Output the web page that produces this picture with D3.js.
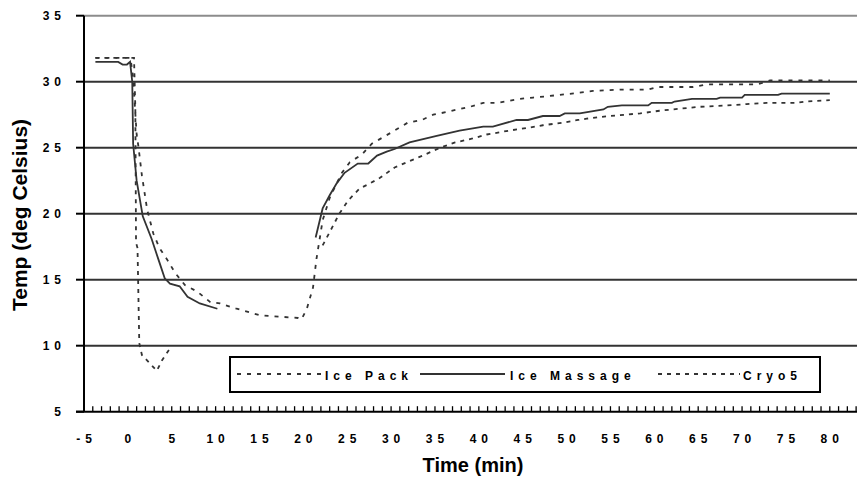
<!DOCTYPE html>
<html><head><meta charset="utf-8">
<script src="https://cdn.jsdelivr.net/npm/d3@7"></script>
<style>body{margin:0;background:#fff}svg{display:block}text{font-family:"Liberation Sans",Arial,sans-serif;font-weight:bold;fill:#000}</style>
</head><body><svg id="c" width="857" height="481"></svg>
<script>
// ---- data ----
const seriesNames = ["Ice Pack", "Ice Massage", "Cryo5"];
const xTickValues = [-5,0,5,10,15,20,25,30,35,40,45,50,55,60,65,70,75,80];
const yTickValues = [5,10,15,20,25,30,35];

const icePackTime = [-3.7,0.3,0.6,1.0,1.2,1.6,2.2,2.9,3.6,4.5,5.4,6.5,7.9,9.4,10.5,12.4,15.1,17.3,19.4,19.8,20.4,21.1,21.5,22.2,23.0,23.8,24.4,25.3,26.7,27.8,29.1,30.4,31.9,33.5,34.8,36.3,37.6,39.0,40.5,42.1,44.7,46.2,47.8,49.2,50.6,53.0,56.1,59.2,60.4,64.4,66.0,71.8,73.2,80.0];
const icePackTemp = [31.8,31.8,30.3,26.0,25.1,22.9,20.3,18.5,17.4,16.5,15.5,14.6,14.1,13.3,13.2,12.8,12.3,12.2,12.1,12.0,12.8,14.4,16.6,19.5,21.2,22.3,23.1,23.9,24.5,25.3,25.8,26.3,26.9,27.1,27.5,27.7,27.9,28.1,28.4,28.4,28.7,28.8,28.9,29.0,29.1,29.3,29.4,29.4,29.6,29.6,29.8,29.8,30.1,30.1];

const iceMassageTime = [-3.7,-1.1,-0.6,-0.1,0.25,0.5,0.6,1.0,1.7,2.7,3.5,4.2,4.8,5.9,6.8,8.2,10.2,15.0,21.4,22.2,23.0,23.8,24.7,26.2,27.4,28.4,29.5,30.4,32.1,35.2,37.8,40.5,41.6,44.3,45.6,47.3,49.2,49.8,51.5,54.2,54.7,56.3,59.3,59.7,62.0,62.3,64.3,67.1,67.5,70.0,70.3,74.1,74.5,80.0];
const iceMassageTemp = [31.5,31.5,31.3,31.3,31.5,30.0,25.3,22.5,19.8,18.1,16.5,15.1,14.7,14.5,13.7,13.2,12.8,null,18.2,20.4,21.4,22.3,23.1,23.8,23.8,24.4,24.7,24.9,25.4,25.9,26.3,26.6,26.6,27.1,27.1,27.4,27.4,27.6,27.6,27.9,28.1,28.2,28.2,28.4,28.4,28.5,28.7,28.7,28.8,28.8,29.0,29.0,29.1,29.1];

const cryo5Time = [-3.7,0.7,0.85,0.93,1.1,1.3,1.6,3.3,3.9,4.8,13.0,22.2,23.0,24.1,25.1,26.4,27.6,28.7,30.4,31.8,33.6,35.6,37.3,39.3,40.9,43.5,45.5,47.3,49.6,51.3,52.3,54.9,58.4,60.6,62.1,65.2,68.3,70.5,72.8,76.2,77.4,80.0];
const cryo5Temp = [31.8,31.8,28.0,17.8,17.4,10.2,9.3,8.1,8.9,9.8,null,17.6,18.6,20.0,21.0,21.9,22.3,22.7,23.5,23.9,24.4,25.0,25.4,25.7,26.0,26.3,26.5,26.7,26.9,27.1,27.2,27.4,27.6,27.8,27.9,28.1,28.2,28.3,28.4,28.4,28.5,28.6];

// ---- layout ----
const svg = d3.select("#c");
const L = 84, R = 857, T = 15.7, B = 411.7;
const x = d3.scaleLinear().domain([-5, 83.1]).range([L, R]);
const y = d3.scaleLinear().domain([5, 35]).range([B, T]);
const LS = 5;

// gridlines
svg.append("g").selectAll("line").data(yTickValues.filter(v => v > 5)).join("line")
  .attr("x1", L).attr("x2", R).attr("y1", d => y(d)).attr("y2", d => y(d))
  .attr("stroke", d => d === 35 ? "#8c8c8c" : "#333").attr("stroke-width", 2);

// series
const styles = {
  "Ice Pack": {dash: "4,6", w: 1.8},
  "Ice Massage": {dash: null, w: 1.8},
  "Cryo5": {dash: "4,5", w: 1.8}
};
const series = [
  {name: "Ice Pack", t: icePackTime, v: icePackTemp},
  {name: "Ice Massage", t: iceMassageTime, v: iceMassageTemp},
  {name: "Cryo5", t: cryo5Time, v: cryo5Temp}
];
const line = d3.line().defined(d => d[1] !== null).x(d => x(d[0])).y(d => y(d[1]));
series.forEach(s => {
  const pts = s.t.map((t, i) => [t, s.v[i]]);
  svg.append("path").datum(pts).attr("d", line).attr("fill", "none")
    .attr("stroke", "#333").attr("stroke-width", styles[s.name].w)
    .attr("stroke-dasharray", styles[s.name].dash);
});

// axes
const xMinor = d3.range(-5, 84, 1);
svg.append("g").selectAll("line").data(xMinor).join("line")
  .attr("x1", d => x(d)).attr("x2", d => x(d)).attr("y1", B).attr("y2", B - 5.5)
  .attr("stroke", "#000").attr("stroke-width", 1.3);
svg.append("line").attr("x1", L).attr("x2", L).attr("y1", T).attr("y2", B).attr("stroke", "#000").attr("stroke-width", 2);
svg.append("line").attr("x1", 76).attr("x2", R).attr("y1", B).attr("y2", B).attr("stroke", "#000").attr("stroke-width", 2);
svg.append("g").selectAll("line").data(yTickValues).join("line")
  .attr("x1", 76).attr("x2", L).attr("y1", d => y(d)).attr("y2", d => y(d))
  .attr("stroke", "#000").attr("stroke-width", 2);

// tick labels
svg.append("g").selectAll("text").data(yTickValues).join("text")
  .attr("x", 66).attr("y", d => y(d) + 4.5).attr("text-anchor", "end")
  .attr("font-size", 12).attr("letter-spacing", LS).text(d => d);
svg.append("g").selectAll("text").data(xTickValues).join("text")
  .attr("x", d => x(d) + LS / 2).attr("y", 443).attr("text-anchor", "middle")
  .attr("font-size", 12).attr("letter-spacing", LS).text(d => d);

// titles
svg.append("text").attr("x", 473).attr("y", 472).attr("text-anchor", "middle")
  .attr("font-size", 20).text("Time (min)");
svg.append("text").attr("transform", "translate(27,215) rotate(-90)").attr("text-anchor", "middle")
  .attr("font-size", 21).text("Temp (deg Celsius)");

// legend
svg.append("rect").attr("x", 230).attr("y", 357).attr("width", 590).attr("height", 35)
  .attr("fill", "#fff").attr("stroke", "#000").attr("stroke-width", 2);
const legendPos = [
  {name: "Ice Pack", x1: 237, x2: 321, tx: 325},
  {name: "Ice Massage", x1: 420, x2: 505, tx: 510},
  {name: "Cryo5", x1: 658, x2: 740, tx: 743}
];
legendPos.forEach(p => {
  svg.append("line").attr("x1", p.x1).attr("x2", p.x2).attr("y1", 374).attr("y2", 374)
    .attr("stroke", "#333").attr("stroke-width", styles[p.name].w)
    .attr("stroke-dasharray", styles[p.name].dash);
  svg.append("text").attr("x", p.tx).attr("y", 379.5).attr("font-size", 12)
    .attr("letter-spacing", LS).text(p.name);
});
</script></body></html>
